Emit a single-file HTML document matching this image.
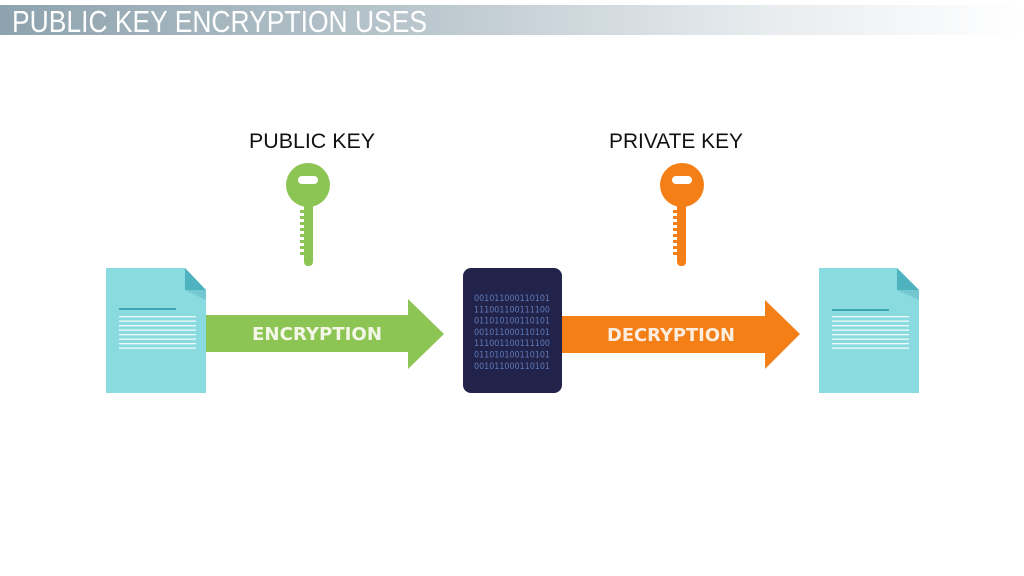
<!DOCTYPE html>
<html><head><meta charset="utf-8"><style>
html,body{margin:0;padding:0;background:#fff;}
svg{display:block}
</style></head><body>
<svg width="1024" height="576" viewBox="0 0 1024 576" xmlns="http://www.w3.org/2000/svg">
<defs>
<linearGradient id="hb" x1="0" x2="1" y1="0" y2="0">
<stop offset="0" stop-color="#8ea3ae"/>
<stop offset="0.4" stop-color="#b9c6cd"/>
<stop offset="0.75" stop-color="#e8ecef"/>
<stop offset="1" stop-color="#ffffff"/>
</linearGradient>
</defs>
<rect x="0" y="5" width="1024" height="30" fill="url(#hb)"/>
<text x="12" y="32" font-family="Liberation Sans, sans-serif" font-size="31" fill="#fff" textLength="415" lengthAdjust="spacingAndGlyphs">PUBLIC KEY ENCRYPTION USES</text>

<text x="312" y="148" text-anchor="middle" font-family="Liberation Sans, sans-serif" font-size="21" fill="#111" textLength="126" lengthAdjust="spacingAndGlyphs">PUBLIC KEY</text>
<text x="676" y="148" text-anchor="middle" font-family="Liberation Sans, sans-serif" font-size="21" fill="#111" textLength="134" lengthAdjust="spacingAndGlyphs">PRIVATE KEY</text>

<!-- green key -->
<g fill="#8dc555">
<circle cx="308" cy="185" r="22"/>
<rect x="304" y="198" width="9" height="68" rx="4"/>
<g><rect x="300" y="210" width="5" height="3"/><rect x="300" y="216" width="5" height="3"/><rect x="300" y="222" width="5" height="3"/><rect x="300" y="228" width="5" height="3"/><rect x="300" y="234" width="5" height="3"/><rect x="300" y="240" width="5" height="3"/><rect x="300" y="246" width="5" height="3"/><rect x="300" y="252" width="5" height="3"/></g>
</g>
<rect x="298" y="176" width="20" height="8" rx="4" fill="#fff"/>

<!-- orange key -->
<g fill="#f57f17">
<circle cx="682" cy="185" r="22"/>
<rect x="677" y="198" width="9" height="68" rx="4"/>
<g><rect x="673" y="210" width="5" height="3"/><rect x="673" y="216" width="5" height="3"/><rect x="673" y="222" width="5" height="3"/><rect x="673" y="228" width="5" height="3"/><rect x="673" y="234" width="5" height="3"/><rect x="673" y="240" width="5" height="3"/><rect x="673" y="246" width="5" height="3"/><rect x="673" y="252" width="5" height="3"/></g>
</g>
<rect x="672" y="176" width="20" height="8" rx="4" fill="#fff"/>

<!-- left doc -->
<polygon points="106,268 185,268 206,290 206,393 106,393" fill="#8adbe0"/>
<polygon points="185,268 206,290 185,290" fill="#4fb3bf"/>
<polygon points="185,290 206,290 206,300" fill="#72c7d0"/>
<rect x="119" y="308" width="57" height="2" fill="#3aa5b5"/>
<g fill="#ffffff" opacity="0.85"><rect x="119" y="316" width="77" height="1.3"/><rect x="119" y="320.5" width="77" height="1.3"/><rect x="119" y="325" width="77" height="1.3"/><rect x="119" y="329.5" width="77" height="1.3"/><rect x="119" y="334" width="77" height="1.3"/><rect x="119" y="338.5" width="77" height="1.3"/><rect x="119" y="343" width="77" height="1.3"/><rect x="119" y="347.5" width="77" height="1.3"/></g>

<!-- right doc -->
<polygon points="819,268 897,268 919,290 919,393 819,393" fill="#8adbe0"/>
<polygon points="897,268 919,290 897,290" fill="#4fb3bf"/>
<polygon points="897,290 919,290 919,300" fill="#72c7d0"/>
<rect x="832" y="309" width="57" height="2" fill="#3aa5b5"/>
<g fill="#ffffff" opacity="0.85"><rect x="832" y="316" width="77" height="1.3"/><rect x="832" y="320.5" width="77" height="1.3"/><rect x="832" y="325" width="77" height="1.3"/><rect x="832" y="329.5" width="77" height="1.3"/><rect x="832" y="334" width="77" height="1.3"/><rect x="832" y="338.5" width="77" height="1.3"/><rect x="832" y="343" width="77" height="1.3"/><rect x="832" y="347.5" width="77" height="1.3"/></g>

<!-- green arrow -->
<polygon points="206,315 408,315 408,299 444,334 408,369 408,352 206,352" fill="#8dc555"/>
<text x="317" y="340" text-anchor="middle" font-family="DejaVu Sans, sans-serif" font-weight="bold" font-size="18" fill="#f4f6e8" textLength="130" lengthAdjust="spacingAndGlyphs">ENCRYPTION</text>

<!-- orange arrow -->
<polygon points="562,316 765,316 765,300 800,334 765,369 765,353 562,353" fill="#f57f17"/>
<text x="671" y="341" text-anchor="middle" font-family="DejaVu Sans, sans-serif" font-weight="bold" font-size="18" fill="#fbeee0" textLength="128" lengthAdjust="spacingAndGlyphs">DECRYPTION</text>

<!-- cipher box -->
<rect x="463" y="268" width="99" height="125" rx="8" fill="#22234a"/>
<g font-family="DejaVu Sans, sans-serif" font-size="8.5" fill="#5f7ab8" text-anchor="middle">
<text x="512" y="301" textLength="76" lengthAdjust="spacingAndGlyphs">001011000110101</text>
<text x="512" y="312.3" textLength="76" lengthAdjust="spacingAndGlyphs">111001100111100</text>
<text x="512" y="323.6" textLength="76" lengthAdjust="spacingAndGlyphs">011010100110101</text>
<text x="512" y="334.9" textLength="76" lengthAdjust="spacingAndGlyphs">001011000110101</text>
<text x="512" y="346.2" textLength="76" lengthAdjust="spacingAndGlyphs">111001100111100</text>
<text x="512" y="357.5" textLength="76" lengthAdjust="spacingAndGlyphs">011010100110101</text>
<text x="512" y="368.8" textLength="76" lengthAdjust="spacingAndGlyphs">001011000110101</text>
</g>
</svg>
</body></html>
